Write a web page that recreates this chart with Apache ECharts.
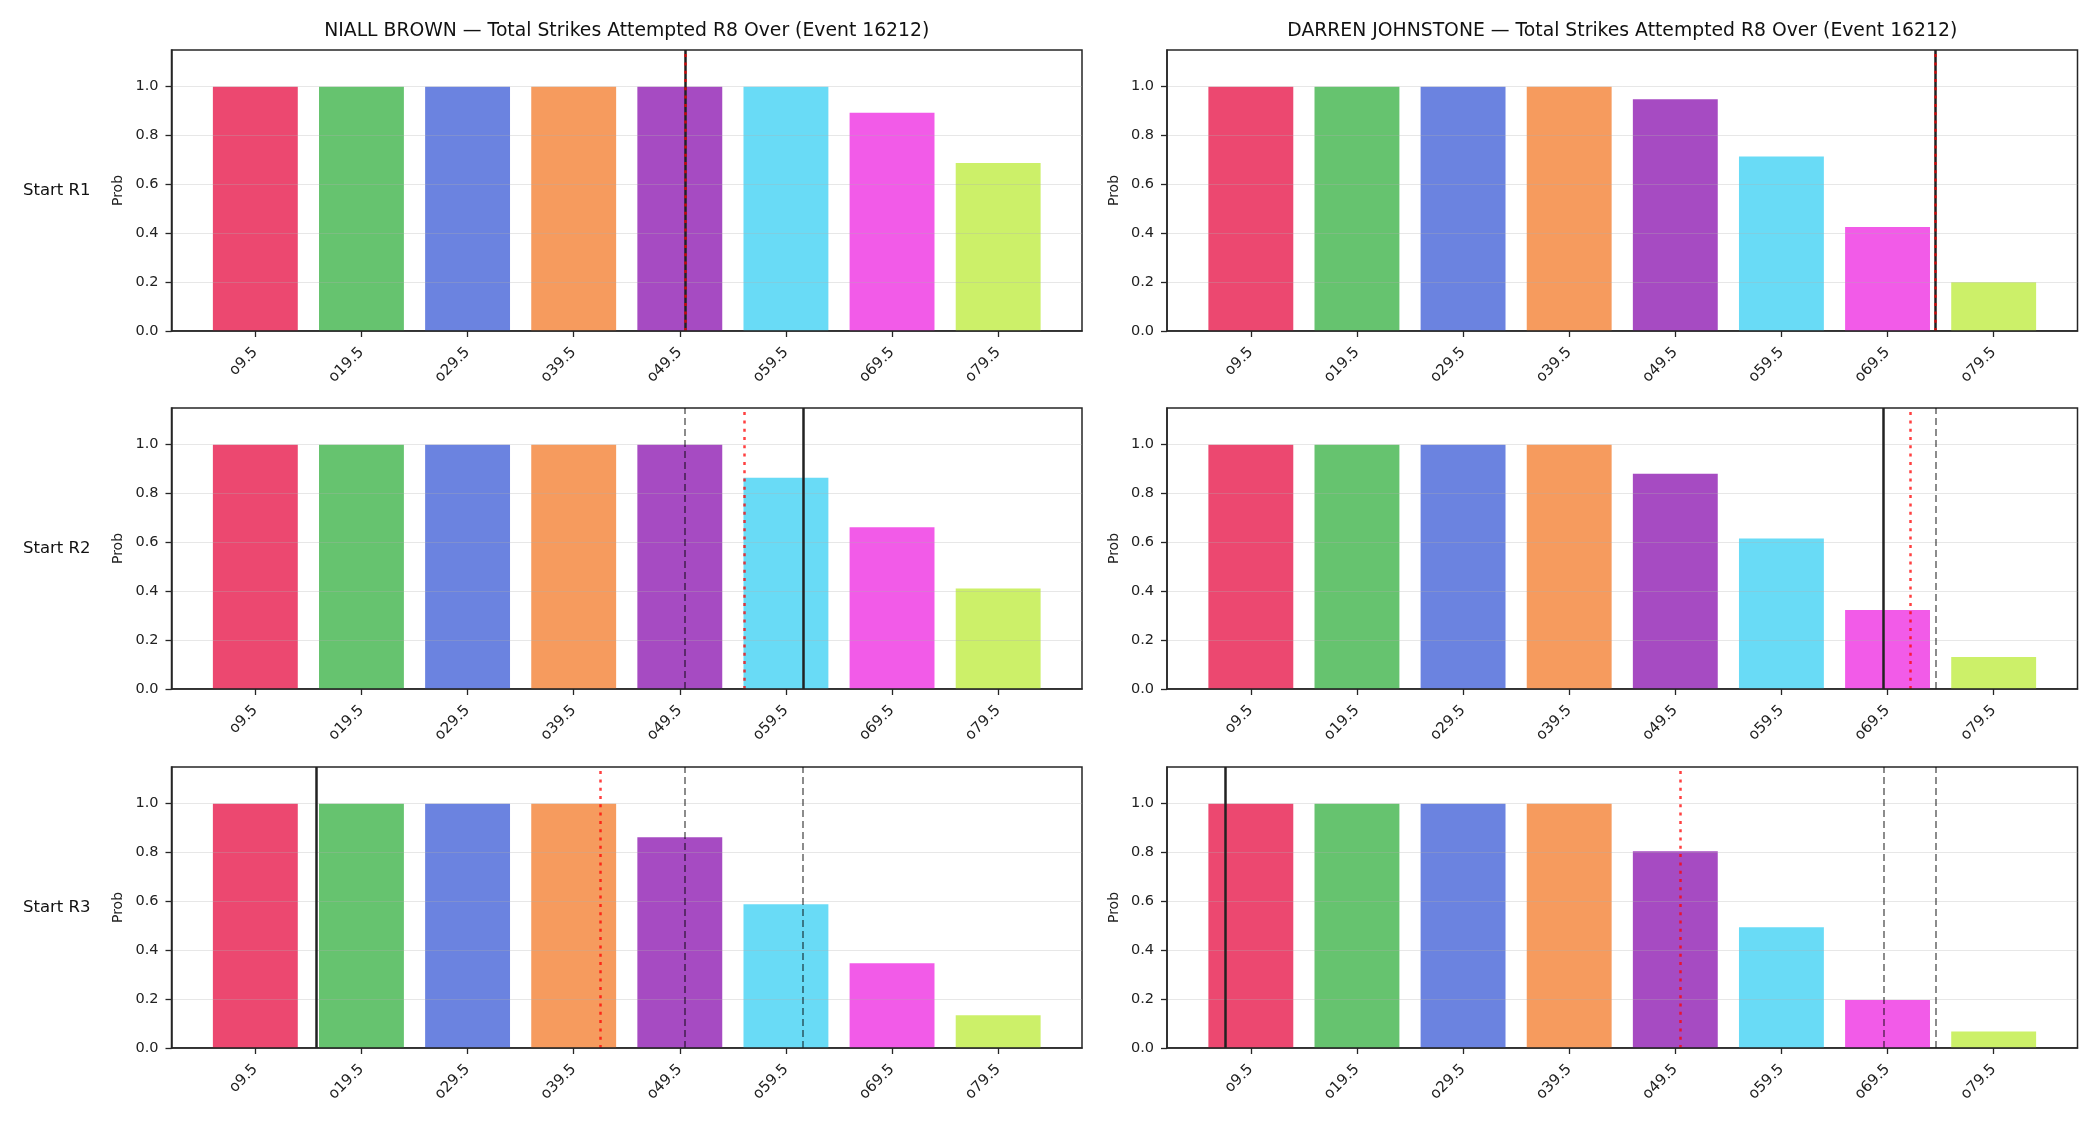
<!DOCTYPE html>
<html>
<head>
  <meta charset="utf-8">
  <title>Total Strikes Attempted R8 Over</title>
  <script src="https://cdn.jsdelivr.net/npm/echarts@6/dist/echarts.min.js"></script>
  <style>
    html, body { margin: 0; padding: 0; background: #ffffff; }
    #chart { width: 2100px; height: 1125px; }
  </style>
</head>
<body>
<div id="chart"></div>
<script>
  // 数据
  var categories = ['o9.5', 'o19.5', 'o29.5', 'o39.5', 'o49.5', 'o59.5', 'o69.5', 'o79.5'];
  var barColors = ['#E92857', '#4BB856', '#516DDA', '#F48A42', '#962BB7', '#4FD5F4', '#F03EE4', '#C3ED4F'];
  var fighters = ['NIALL BROWN', 'DARREN JOHNSTONE'];
  var titleSuffix = ' \u2014 Total Strikes Attempted R8 Over (Event 16212)';
  var rowLabels = ['Start R1', 'Start R2', 'Start R3'];
  var yTicks = [0, 0.2, 0.4, 0.6, 0.8, 1.0];

  var brownR1 = [1.0, 1.0, 1.0, 1.0, 1.0, 1.0, 0.893, 0.688];
  var brownR2 = [1.0, 1.0, 1.0, 1.0, 1.0, 0.865, 0.662, 0.411];
  var brownR3 = [1.0, 1.0, 1.0, 1.0, 0.862, 0.588, 0.347, 0.134];
  var johnstoneR1 = [1.0, 1.0, 1.0, 1.0, 0.948, 0.714, 0.426, 0.199];
  var johnstoneR2 = [1.0, 1.0, 1.0, 1.0, 0.881, 0.616, 0.323, 0.131];
  var johnstoneR3 = [1.0, 1.0, 1.0, 1.0, 0.805, 0.494, 0.196, 0.068];

  // 竖线位置（以类别序号为单位）：黑实线=当前盘口，红点线=预测
  var brownLine = [4.055, 5.161, 0.568];
  var brownProj = [4.055, 4.613, 3.254];
  var johnstoneLine = [6.454, 5.956, -0.239];
  var johnstoneProj = [6.454, 6.207, 4.053];

  var panels = [
    [brownR1, johnstoneR1],
    [brownR2, johnstoneR2],
    [brownR3, johnstoneR3]
  ];
  var lines = [brownLine, johnstoneLine];
  var projs = [brownProj, johnstoneProj];

  // 布局
  var FONT = 'DejaVu Sans';
  var gridLefts = [171.5, 1167];
  var gridTops = [50, 408, 767];
  var gridW = 910.5, gridH = 281;
  var xMin = -0.79, xMax = 7.79;
  var barW = 0.8 * gridW / (xMax - xMin);

  var chart = echarts.init(document.getElementById('chart'), null, { renderer: 'canvas' });

  var grids = [], xAxes = [], yAxes = [], series = [], graphics = [];

  for (var r = 0; r < 3; r++) {
    for (var c = 0; c < 2; c++) {
      var k = grids.length;
      grids.push({
        left: gridLefts[c], top: gridTops[r], width: gridW, height: gridH,
        show: true, borderColor: '#262626', borderWidth: 1.5, backgroundColor: 'transparent'
      });
      xAxes.push({
        gridIndex: k, type: 'value', min: xMin, max: xMax, z: 5,
        axisLine: { show: true, onZero: false, lineStyle: { color: '#262626', width: 1.5 } },
        axisTick: { show: true, length: 6, customValues: [0, 1, 2, 3, 4, 5, 6, 7], lineStyle: { color: '#262626', width: 1.3 } },
        axisLabel: {
          customValues: [0, 1, 2, 3, 4, 5, 6, 7], rotate: 45, margin: 19,
          fontFamily: FONT, fontSize: 15, color: '#222',
          formatter: function (v) { return categories[Math.round(v)]; }
        },
        splitLine: { show: false }
      });
      yAxes.push({
        gridIndex: k, type: 'value', min: 0, max: 1.15, interval: 0.2, z: 5,
        name: 'Prob', nameLocation: 'middle', nameGap: 46, nameRotate: 90,
        nameTextStyle: { fontFamily: FONT, fontSize: 14, color: '#222' },
        axisLine: { show: true, onZero: false, lineStyle: { color: '#262626', width: 1.5 } },
        axisTick: { show: true, length: 6, customValues: yTicks, lineStyle: { color: '#262626', width: 1.3 } },
        axisLabel: {
          customValues: yTicks, margin: 13, fontFamily: FONT, fontSize: 14.5, color: '#222',
          formatter: function (v) { return v.toFixed(1); }
        },
        splitLine: { show: true, lineStyle: { color: 'rgba(176,176,176,0.3)', width: 1 } }
      });

      var vals = panels[r][c];
      var data = vals.map(function (v, i) {
        return { value: [i, v], itemStyle: { color: barColors[i], opacity: 0.85 } };
      });

      var ml = [];
      for (var p = 0; p < r; p++) {
        ml.push({ xAxis: lines[c][p], lineStyle: { color: 'rgba(0,0,0,0.5)', width: 1.8, type: [7, 4] } });
      }
      ml.push({ xAxis: lines[c][r], lineStyle: { color: '#222', width: 2.5, type: 'solid' } });
      ml.push({ xAxis: projs[c][r], lineStyle: { color: 'rgba(255,0,0,0.75)', width: 2.5, type: [3, 5.3] } });

      series.push({
        type: 'bar', xAxisIndex: k, yAxisIndex: k, barWidth: barW,
        data: data, silent: true, animation: false,
        markLine: {
          silent: true, animation: false, symbol: ['none', 'none'],
          label: { show: false }, emphasis: { disabled: true },
          data: ml
        }
      });
    }
  }

  // 标题
  for (var c2 = 0; c2 < 2; c2++) {
    graphics.push({
      type: 'text', x: gridLefts[c2] + gridW / 2, y: 31,
      style: { text: fighters[c2] + titleSuffix, font: '18.8px "' + FONT + '"', fill: '#111', align: 'center', verticalAlign: 'middle' }
    });
  }
  // 行标签
  for (var r2 = 0; r2 < 3; r2++) {
    graphics.push({
      type: 'text', x: 23, y: gridTops[r2] + gridH / 2,
      style: { text: rowLabels[r2], font: '16.5px "' + FONT + '"', fill: '#111', align: 'left', verticalAlign: 'middle' }
    });
  }

  var option = {
    animation: false,
    backgroundColor: '#ffffff',
    textStyle: { fontFamily: FONT },
    grid: grids,
    xAxis: xAxes,
    yAxis: yAxes,
    series: series,
    graphic: graphics
  };

  option && chart.setOption(option);
</script>
</body>
</html>
